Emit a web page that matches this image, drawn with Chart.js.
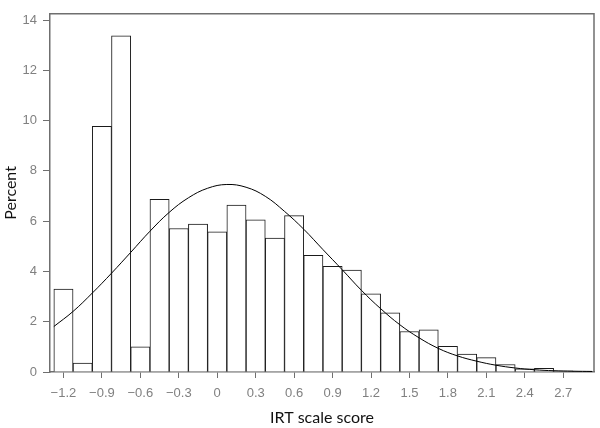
<!DOCTYPE html>
<html><head><meta charset="utf-8">
<script src="https://cdn.jsdelivr.net/npm/chart.js@4/dist/chart.umd.min.js"></script>
<style>html,body{margin:0;padding:0;background:#fff}#wrap{width:600px;height:428px}</style>
</head><body><div id="wrap"><canvas id="c" width="600" height="428"></canvas></div>
<script>
// Histogram bins (centres, IRT scale score) and percent per bin
const binCenters = [-1.2,-1.05,-0.9,-0.75,-0.6,-0.45,-0.3,-0.15,0,0.15,0.3,0.45,0.6,0.75,0.9,1.05,1.2,1.35,1.5,1.65,1.8,1.95,2.1,2.25,2.4,2.55,2.7,2.85];
const percents   = [3.30,0.35,9.77,13.37,1.00,6.87,5.71,5.88,5.58,6.64,6.05,5.33,6.22,4.64,4.20,4.05,3.11,2.35,1.61,1.68,1.02,0.71,0.57,0.30,0.13,0.15,0.05,0.04];
// Fitted curve, values
const curveX = [-1.275,-1.125,-0.975,-0.825,-0.675,-0.525,-0.375,-0.225,-0.075,0.075,0.225,0.375,0.525,0.675,0.825,0.975,1.125,1.275,1.425,1.575,1.725,1.875,2.025,2.175,2.325,2.475,2.625,2.775,2.925];
const curveY = [1.81,2.41,3.14,3.93,4.76,5.60,6.35,6.93,7.31,7.46,7.35,6.99,6.39,5.68,4.87,4.07,3.25,2.52,1.88,1.36,0.94,0.64,0.43,0.27,0.16,0.09,0.05,0.03,0.02];
// Axis ticks
const xTickValues = [-1.2,-0.9,-0.6,-0.3,0,0.3,0.6,0.9,1.2,1.5,1.8,2.1,2.4,2.7];
const yTickValues = [0,2,4,6,8,10,12,14];

const fmt = v => {
  const s = (Math.round(v*10)/10).toString();
  return v < 0 ? '\u2212' + s.slice(1) : s;
};
const GRAY = '#6f6f6f';
const tickFont = {family: '"Liberation Sans", Arial, sans-serif', size: 13};
const titleFont = {family: 'Lato, "Open Sans", sans-serif', size: 16};

const framePlugin = {
  id: 'frame',
  afterDraw(chart) {
    const {ctx, chartArea: a} = chart;
    ctx.save();
    ctx.strokeStyle = GRAY;
    ctx.lineWidth = 1.5;
    ctx.beginPath();
    ctx.moveTo(a.left, a.top);
    ctx.lineTo(a.right, a.top);
    ctx.lineTo(a.right, a.bottom);
    ctx.stroke();
    ctx.restore();
  }
};

new Chart(document.getElementById('c'), {
  type: 'bar',
  data: {
    datasets: [
      {
        type: 'line',
        data: curveX.map((x, i) => ({x, y: curveY[i]})),
        borderColor: '#000',
        borderWidth: 1,
        pointRadius: 0,
        tension: 0.4,
        fill: false,
        order: 0
      },
      {
        type: 'bar',
        data: binCenters.map((x, i) => ({x, y: percents[i]})),
        backgroundColor: '#ffffff',
        borderColor: '#1a1a1a',
        borderWidth: 1,
        barPercentage: 1,
        categoryPercentage: 1,
        grouped: false,
        order: 1
      }
    ]
  },
  options: {
    responsive: false,
    animation: false,
    devicePixelRatio: 1,
    layout: {padding: {top: 4, right: 6, left: 0, bottom: 0}},
    plugins: {legend: {display: false}, tooltip: {enabled: false}},
    scales: {
      x: {
        type: 'linear',
        min: -1.305,
        max: 2.94,
        offset: false,
        grid: {display: true, drawOnChartArea: false, offset: false, color: GRAY, tickLength: 6, lineWidth: 1},
        border: {display: true, color: GRAY, width: 1.5},
        afterBuildTicks: s => { s.ticks = xTickValues.map(v => ({value: v})); },
        afterFit: s => { s.height = 56; },
        ticks: {color: '#808080', font: tickFont, padding: 8, maxRotation: 0, autoSkip: false, callback: v => fmt(v)},
        title: {display: true, text: 'IRT scale score', color: '#111', font: titleFont, padding: {top: 0, bottom: 1}}
      },
      y: {
        type: 'linear',
        min: 0,
        max: 14.25,
        grid: {display: true, drawOnChartArea: false, color: GRAY, tickLength: 7, lineWidth: 1},
        border: {display: true, color: GRAY, width: 1.5},
        afterBuildTicks: s => { s.ticks = yTickValues.map(v => ({value: v})); },
        afterFit: s => { s.width = 50; },
        ticks: {color: '#808080', font: tickFont, padding: 6, callback: v => String(v)},
        title: {display: true, text: 'Percent', color: '#111', font: titleFont, padding: {top: 1, bottom: 0}}
      }
    }
  },
  plugins: [framePlugin]
});
</script>
</body></html>
